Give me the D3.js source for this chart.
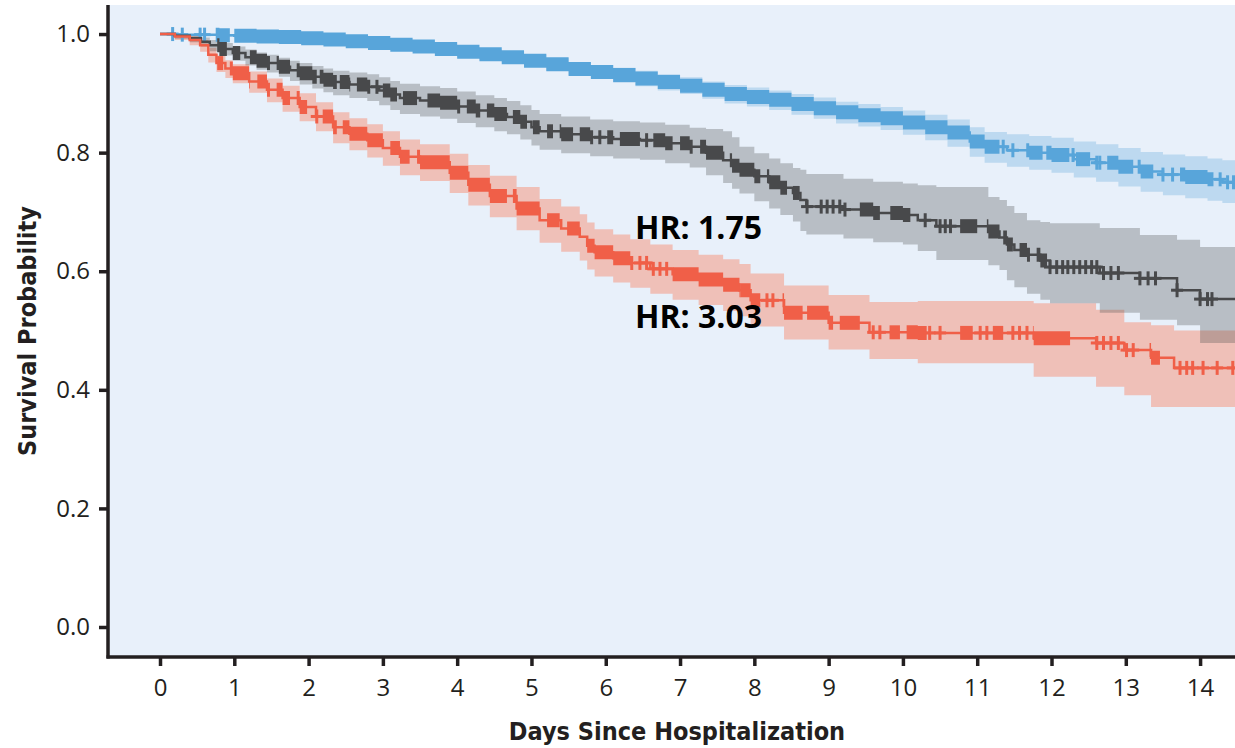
<!DOCTYPE html>
<html>
<head>
<meta charset="utf-8">
<script src="https://cdn.jsdelivr.net/npm/d3@7"></script>
<style>
  body { margin: 0; background: #fff; }
  svg { display: block; }
</style>
</head>
<body>
<svg id="km" width="1235" height="748"></svg>
<script>
// tick labels
var xTicks = [0, 1, 2, 3, 4, 5, 6, 7, 8, 9, 10, 11, 12, 13, 14];
var yTicks = [0.0, 0.2, 0.4, 0.6, 0.8, 1.0];

// low risk group (blue)
var blueTime  = [0, 0.2, 0.5, 0.8, 1.0, 1.3, 1.6, 1.9, 2.2, 2.5, 2.8, 3.1, 3.4, 3.7, 4.0, 4.3, 4.6, 4.9, 5.2, 5.5, 5.8, 6.1, 6.4, 6.7, 7.0, 7.3, 7.6, 7.9, 8.2, 8.5, 8.8, 9.1, 9.4, 9.7, 10.0, 10.3, 10.6, 10.9, 11.1, 11.4, 11.7, 12.0, 12.3, 12.6, 12.9, 13.2, 13.5, 13.8, 14.1, 14.3];
var blueSurv  = [1.000, 0.999, 0.999, 0.998, 0.997, 0.996, 0.995, 0.993, 0.991, 0.988, 0.985, 0.982, 0.979, 0.975, 0.970, 0.966, 0.961, 0.955, 0.949, 0.941, 0.936, 0.931, 0.925, 0.919, 0.913, 0.906, 0.899, 0.894, 0.889, 0.882, 0.875, 0.868, 0.863, 0.858, 0.851, 0.843, 0.834, 0.819, 0.810, 0.804, 0.800, 0.796, 0.789, 0.783, 0.776, 0.768, 0.763, 0.759, 0.755, 0.750];
var blueLower = [1.000, 0.998, 0.997, 0.995, 0.994, 0.993, 0.991, 0.989, 0.986, 0.983, 0.979, 0.976, 0.972, 0.968, 0.962, 0.957, 0.952, 0.945, 0.938, 0.930, 0.924, 0.918, 0.912, 0.905, 0.899, 0.891, 0.883, 0.878, 0.872, 0.864, 0.857, 0.849, 0.844, 0.838, 0.830, 0.821, 0.810, 0.793, 0.783, 0.776, 0.771, 0.766, 0.758, 0.751, 0.743, 0.734, 0.728, 0.723, 0.719, 0.715];
var blueUpper = [1.000, 1.000, 1.000, 1.000, 0.999, 0.999, 0.998, 0.997, 0.995, 0.993, 0.990, 0.988, 0.985, 0.982, 0.978, 0.974, 0.970, 0.965, 0.959, 0.952, 0.948, 0.943, 0.938, 0.932, 0.927, 0.920, 0.914, 0.910, 0.905, 0.899, 0.893, 0.886, 0.882, 0.877, 0.871, 0.864, 0.856, 0.843, 0.835, 0.831, 0.828, 0.825, 0.819, 0.814, 0.808, 0.801, 0.797, 0.794, 0.790, 0.787];
var blueCensor = [0.17, 0.30, 0.54, 0.60, 11.35, 11.48, 12.29, 12.61, 12.65, 13.50, 13.63, 14.27, 14.37, 14.45];
var blueCensorRuns = [[0.75, 0.94], [1.00, 11.30], [11.66, 11.88], [11.93, 12.24], [12.33, 12.52], [12.75, 13.10], [13.16, 13.37], [13.73, 14.18]];

// mid risk group (grey)
var greyTime  = [0, 0.2, 0.4, 0.55, 0.67, 0.8, 0.98, 1.15, 1.3, 1.44, 1.6, 1.75, 1.88, 2.05, 2.2, 2.33, 2.55, 2.79, 2.95, 3.1, 3.23, 3.5, 3.77, 4.0, 4.25, 4.5, 4.67, 4.85, 5.0, 5.11, 5.4, 5.79, 6.1, 6.46, 6.8, 7.13, 7.35, 7.58, 7.7, 7.8, 8.0, 8.2, 8.35, 8.52, 8.62, 8.7, 9.2, 9.6, 10.0, 10.2, 10.45, 11.15, 11.3, 11.4, 11.5, 11.67, 11.85, 11.98, 12.65, 13.19, 13.69, 14.0];
var greySurv  = [1.000, 0.997, 0.993, 0.987, 0.981, 0.975, 0.968, 0.961, 0.955, 0.951, 0.945, 0.939, 0.934, 0.928, 0.923, 0.919, 0.915, 0.911, 0.905, 0.898, 0.892, 0.888, 0.884, 0.878, 0.871, 0.865, 0.860, 0.852, 0.843, 0.836, 0.831, 0.826, 0.823, 0.821, 0.816, 0.810, 0.800, 0.787, 0.778, 0.771, 0.760, 0.750, 0.741, 0.732, 0.720, 0.709, 0.704, 0.698, 0.695, 0.686, 0.676, 0.667, 0.657, 0.645, 0.636, 0.628, 0.618, 0.607, 0.597, 0.588, 0.568, 0.553];
var greyLower = [1.000, 0.992, 0.986, 0.979, 0.971, 0.964, 0.955, 0.947, 0.940, 0.935, 0.928, 0.921, 0.915, 0.908, 0.902, 0.897, 0.892, 0.887, 0.880, 0.872, 0.865, 0.861, 0.857, 0.850, 0.843, 0.836, 0.831, 0.822, 0.812, 0.805, 0.799, 0.794, 0.790, 0.788, 0.782, 0.775, 0.762, 0.749, 0.739, 0.731, 0.718, 0.706, 0.695, 0.684, 0.668, 0.662, 0.655, 0.649, 0.645, 0.634, 0.619, 0.610, 0.602, 0.585, 0.573, 0.562, 0.552, 0.546, 0.530, 0.518, 0.509, 0.479];
var greyUpper = [1.000, 1.000, 0.999, 0.994, 0.990, 0.985, 0.979, 0.974, 0.969, 0.965, 0.960, 0.955, 0.951, 0.946, 0.942, 0.938, 0.935, 0.932, 0.927, 0.921, 0.916, 0.912, 0.909, 0.903, 0.897, 0.892, 0.887, 0.880, 0.872, 0.865, 0.861, 0.856, 0.853, 0.851, 0.847, 0.842, 0.840, 0.836, 0.826, 0.810, 0.799, 0.790, 0.782, 0.774, 0.771, 0.764, 0.756, 0.751, 0.748, 0.745, 0.742, 0.725, 0.720, 0.710, 0.698, 0.686, 0.683, 0.681, 0.673, 0.661, 0.653, 0.641];
var greyCensor = [2.92, 5.92, 6.55, 8.71, 8.90, 8.98, 9.06, 9.15, 9.22, 10.30, 10.50, 10.57, 10.64, 11.98, 12.07, 12.15, 12.22, 12.30, 12.38, 12.46, 12.54, 12.61, 12.70, 12.80, 12.90, 13.19, 13.30, 13.40, 13.69, 14.00, 14.10, 14.16];
var greyCensorRuns = [[0.77, 0.90], [0.98, 1.08], [1.21, 1.48], [1.57, 1.75], [1.84, 2.11], [2.15, 2.38], [2.42, 2.56], [2.65, 2.83], [3.00, 3.19], [3.27, 3.46], [3.60, 4.04], [4.13, 4.31], [4.40, 4.67], [4.75, 4.94], [5.02, 5.11], [5.21, 5.29], [5.38, 5.56], [5.65, 5.83], [6.02, 6.10], [6.19, 6.46], [6.64, 6.90], [7.00, 7.17], [7.27, 7.58], [7.67, 8.08], [8.17, 8.44], [8.52, 8.61], [9.42, 9.69], [9.83, 10.10], [10.77, 11.00], [11.13, 11.30], [11.35, 11.48], [11.57, 11.71], [11.80, 11.94]];

// high risk group (red)
var redTime  = [0, 0.2, 0.4, 0.54, 0.65, 0.76, 0.88, 0.98, 1.2, 1.44, 1.65, 1.88, 2.1, 2.33, 2.55, 2.79, 3.0, 3.23, 3.5, 3.9, 4.15, 4.44, 4.8, 5.11, 5.4, 5.65, 5.75, 5.85, 6.1, 6.33, 6.6, 6.9, 7.25, 7.58, 7.8, 7.95, 8.4, 9.0, 9.55, 10.2, 11.76, 12.6, 12.98, 13.34, 13.65];
var redSurv  = [1.000, 0.996, 0.990, 0.981, 0.965, 0.951, 0.942, 0.934, 0.920, 0.906, 0.892, 0.877, 0.861, 0.843, 0.832, 0.821, 0.808, 0.793, 0.784, 0.766, 0.746, 0.727, 0.706, 0.686, 0.672, 0.658, 0.643, 0.632, 0.622, 0.614, 0.604, 0.595, 0.586, 0.577, 0.568, 0.551, 0.530, 0.513, 0.497, 0.496, 0.487, 0.479, 0.467, 0.454, 0.437];
var redLower = [1.000, 0.990, 0.981, 0.970, 0.952, 0.936, 0.926, 0.917, 0.901, 0.885, 0.869, 0.853, 0.836, 0.816, 0.804, 0.792, 0.778, 0.762, 0.752, 0.732, 0.711, 0.691, 0.669, 0.648, 0.633, 0.618, 0.603, 0.591, 0.581, 0.572, 0.562, 0.552, 0.543, 0.533, 0.524, 0.507, 0.485, 0.468, 0.452, 0.445, 0.422, 0.405, 0.391, 0.371, 0.371];
var redUpper = [1.000, 1.000, 0.997, 0.990, 0.977, 0.964, 0.956, 0.949, 0.937, 0.925, 0.913, 0.900, 0.885, 0.868, 0.858, 0.848, 0.836, 0.822, 0.814, 0.798, 0.779, 0.761, 0.742, 0.722, 0.709, 0.696, 0.682, 0.671, 0.662, 0.654, 0.645, 0.636, 0.628, 0.620, 0.612, 0.596, 0.576, 0.560, 0.548, 0.550, 0.546, 0.535, 0.514, 0.509, 0.500];
var redCensor = [2.11, 6.46, 6.55, 6.64, 6.73, 6.82, 8.17, 8.25, 9.60, 9.69, 10.36, 10.50, 11.04, 11.13, 11.48, 11.57, 11.67, 12.61, 12.70, 12.80, 12.90, 13.01, 13.10, 13.73, 13.82, 13.90, 14.04, 14.23, 14.44];
var redCensorRuns = [[0.77, 0.85], [0.94, 1.21], [1.31, 1.48], [1.57, 1.75], [1.84, 1.98], [2.19, 2.38], [2.46, 3.00], [3.10, 3.36], [3.46, 4.67], [4.75, 5.11], [5.21, 5.38], [5.48, 5.65], [5.75, 6.37], [6.90, 7.81], [7.81, 8.08], [8.38, 8.65], [8.71, 9.06], [9.15, 9.42], [9.82, 9.96], [10.05, 10.32], [10.77, 10.94], [11.21, 11.35], [11.75, 12.25], [13.32, 13.46]];

var hrLabels = ["HR: 1.75", "HR: 3.03"];

var svg = d3.select("#km");
var panel = { left: 108, right: 1235, top: 5, bottom: 657 };

var x = d3.scaleLinear().domain([-0.7, 14.47]).range([panel.left, panel.right]);
var y = d3.scaleLinear().domain([-0.0506, 1.049]).range([panel.bottom, panel.top]);
var xEnd = x.domain()[1];

svg.append("defs").append("clipPath").attr("id", "clip")
  .append("rect")
  .attr("x", panel.left).attr("y", panel.top)
  .attr("width", panel.right - panel.left).attr("height", panel.bottom - panel.top);

svg.append("rect")
  .attr("x", panel.left).attr("y", panel.top)
  .attr("width", panel.right - panel.left).attr("height", panel.bottom - panel.top)
  .attr("fill", "#e8f0fa");

var series = [
  { key: "red",  time: redTime,  surv: redSurv,  lo: redLower,  hi: redUpper,  censor: redCensor,  runs: redCensorRuns,  line: "#f05f48", band: "#ff5a30", bandOp: 0.32 },
  { key: "grey", time: greyTime, surv: greySurv, lo: greyLower, hi: greyUpper, censor: greyCensor, runs: greyCensorRuns, line: "#48494b", band: "#4a4b4d", bandOp: 0.30 },
  { key: "blue", time: blueTime, surv: blueSurv, lo: blueLower, hi: blueUpper, censor: blueCensor, runs: blueCensorRuns, line: "#58a5da", band: "#5ba6dc", bandOp: 0.30 }
];

function rows(s) {
  var r = s.time.map(function(t, i) { return { t: t, s: s.surv[i], lo: s.lo[i], hi: s.hi[i] }; });
  var last = r[r.length - 1];
  r.push({ t: xEnd, s: last.s, lo: last.lo, hi: last.hi });
  return r;
}

function survAt(s, t) {
  var v = s.surv[0];
  s.time.forEach(function(tt, i) { if (tt <= t) v = s.surv[i]; });
  return v;
}

var plot = svg.append("g").attr("clip-path", "url(#clip)");

// confidence bands
series.forEach(function(s) {
  var area = d3.area()
    .curve(d3.curveStepAfter)
    .x(function(d) { return x(d.t); })
    .y0(function(d) { return y(d.lo); })
    .y1(function(d) { return y(d.hi); });
  plot.append("path")
    .datum(rows(s))
    .attr("d", area)
    .attr("fill", s.band)
    .attr("fill-opacity", s.bandOp);
});

// survival lines + censor marks
[series[2], series[1], series[0]].forEach(function(s) {
  var g = plot.append("g").attr("class", "km-" + s.key);
  var line = d3.line()
    .curve(d3.curveStepAfter)
    .x(function(d) { return x(d.t); })
    .y(function(d) { return y(d.s); });
  g.append("path")
    .datum(rows(s))
    .attr("d", line)
    .attr("fill", "none")
    .attr("stroke", s.line)
    .attr("stroke-width", 2.5);

  // runs of censor marks so dense they merge into a block
  var runArea = d3.area()
    .curve(d3.curveStepAfter)
    .x(function(d) { return x(d.t); })
    .y0(function(d) { return y(d.s) + 7; })
    .y1(function(d) { return y(d.s) - 7; });
  s.runs.forEach(function(r) {
    var pts = [{ t: r[0], s: survAt(s, r[0]) }];
    s.time.forEach(function(t, i) { if (t > r[0] && t < r[1]) pts.push({ t: t, s: s.surv[i] }); });
    pts.push({ t: r[1], s: survAt(s, r[1]) });
    g.append("path").attr("d", runArea(pts)).attr("fill", s.line);
  });

  // single censor marks (+)
  var marks = g.selectAll(".mark")
    .data(s.censor)
    .enter().append("g")
    .attr("transform", function(d) { return "translate(" + x(d) + "," + y(survAt(s, d)) + ")"; });
  marks.append("rect").attr("x", -1.5).attr("y", -7).attr("width", 3).attr("height", 14).attr("fill", s.line);
  marks.append("rect").attr("x", -6).attr("y", -1.5).attr("width", 12).attr("height", 3).attr("fill", s.line);
});

// axes
var tickFont = "'Open Sans', 'DejaVu Sans', sans-serif";

var xAxis = svg.append("g")
  .attr("transform", "translate(0," + panel.bottom + ")")
  .call(d3.axisBottom(x).tickValues(xTicks).tickSize(9).tickPadding(13).tickFormat(d3.format("d")));
var yAxis = svg.append("g")
  .attr("transform", "translate(" + panel.left + ",0)")
  .call(d3.axisLeft(y).tickValues(yTicks).tickSize(9).tickPadding(9).tickFormat(d3.format(".1f")));

[xAxis, yAxis].forEach(function(a) {
  a.select(".domain").remove();
  a.selectAll(".tick line").attr("stroke", "#231f20").attr("stroke-width", 3.5);
  a.selectAll(".tick text")
    .attr("fill", "#231f20")
    .attr("font-family", tickFont)
    .attr("font-size", 24);
});

svg.append("line")
  .attr("x1", panel.left).attr("x2", panel.left)
  .attr("y1", panel.top).attr("y2", panel.bottom + 1.5)
  .attr("stroke", "#231f20").attr("stroke-width", 3.5);
svg.append("line")
  .attr("x1", panel.left - 1.5).attr("x2", panel.right)
  .attr("y1", panel.bottom).attr("y2", panel.bottom)
  .attr("stroke", "#231f20").attr("stroke-width", 3.5);

var titleFont = "'Liberation Sans Narrow', 'DejaVu Sans Condensed', 'Open Sans', sans-serif";

svg.append("text")
  .attr("x", 677).attr("y", 740)
  .attr("text-anchor", "middle")
  .attr("font-family", titleFont)
  .attr("font-weight", "bold")
  .attr("font-size", 25)
  .attr("fill", "#231f20")
  .text("Days Since Hospitalization");

svg.append("text")
  .attr("transform", "translate(36,331) rotate(-90)")
  .attr("text-anchor", "middle")
  .attr("font-family", titleFont)
  .attr("font-weight", "bold")
  .attr("font-size", 25)
  .attr("fill", "#231f20")
  .text("Survival Probability");

// hazard ratio annotations
svg.selectAll(".hr")
  .data(hrLabels)
  .enter().append("text")
  .attr("class", "hr")
  .attr("x", 635)
  .attr("y", function(d, i) { return i === 0 ? 239 : 328; })
  .attr("font-family", "'Open Sans', sans-serif")
  .attr("font-weight", "bold")
  .attr("font-size", 32)
  .attr("fill", "#000")
  .text(function(d) { return d; });
</script>
</body>
</html>
